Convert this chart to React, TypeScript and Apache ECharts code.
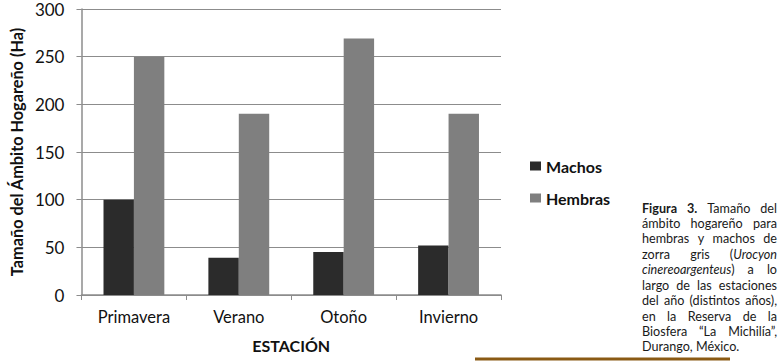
import React, { useEffect, useRef } from "react";
import * as echarts from "echarts";

const categories = ["Primavera", "Verano", "Otoño", "Invierno"];
const machos = [100, 39, 45, 52];
const hembras = [250, 190, 269, 190];
const seriesNames = ["Machos", "Hembras"];
const yMin = 0;
const yMax = 300;
const yStep = 50;
const xTitle = "ESTACIÓN";
const yTitle = "Tamaño del Ámbito Hogareño (Ha)";
const captionLines = [
  "{b|Figura} {b|3.} Tamaño del",
  "ámbito hogareño para",
  "hembras y machos de",
  "zorra gris ({i|Urocyon}",
  "{i|cinereoargenteus}) a lo",
  "largo de las estaciones",
  "del año (distintos años),",
  "en la Reserva de la",
  "Biosfera “La Michilía”,",
  "Durango, México.",
];

const FONT = "Lato, 'Open Sans', sans-serif";
const CAP_FONT = "Lato, sans-serif";
const CAP_SIZE = 12.6;

function parseWord(w: string) {
  const re = /\{(\w)\|([^}]*)\}|([^{]+)/g;
  const parts: { s: string; t: string }[] = [];
  let m: RegExpExecArray | null;
  while ((m = re.exec(w))) {
    if (m[1]) parts.push({ s: m[1], t: m[2] });
    else parts.push({ s: "n", t: m[3] });
  }
  return parts;
}

function buildCaption() {
  const canvas = document.createElement("canvas");
  const ctx = canvas.getContext("2d")!;
  const left = 642;
  const right = 777;
  const width = right - left;
  const top = 208;
  const lh = 15.44;
  const els: any[] = [];
  const rich = {
    n: { fontSize: CAP_SIZE, fontFamily: CAP_FONT, fill: "#1a1a1a" },
    b: { fontSize: CAP_SIZE, fontFamily: CAP_FONT, fontWeight: "bold", fill: "#1a1a1a" },
    i: { fontSize: CAP_SIZE, fontFamily: CAP_FONT, fontStyle: "italic", fill: "#1a1a1a" },
  };
  captionLines.forEach((line, li) => {
    const words = line.split(" ");
    const widths = words.map((w) =>
      parseWord(w).reduce((acc, p) => {
        const wt = p.s === "b" ? "bold " : "";
        const st = p.s === "i" ? "italic " : "";
        ctx.font = `${st}${wt}${CAP_SIZE}px ${CAP_FONT}`;
        return acc + ctx.measureText(p.t).width;
      }, 0)
    );
    const total = widths.reduce((a, b) => a + b, 0);
    const last = li === captionLines.length - 1;
    ctx.font = `${CAP_SIZE}px ${CAP_FONT}`;
    const gap = last || words.length < 2 ? ctx.measureText(" ").width : (width - total) / (words.length - 1);
    let x = left;
    words.forEach((w, wi) => {
      const parts = parseWord(w);
      const text = parts.map((p) => `{${p.s}|${p.t}}`).join("");
      const isLastWord = !last && wi === words.length - 1 && words.length > 1;
      els.push({
        type: "text",
        x: isLastWord ? right : x,
        y: top + li * lh,
        style: {
          text,
          rich,
          fontSize: CAP_SIZE,
          fontFamily: CAP_FONT,
          fill: "#1a1a1a",
          verticalAlign: "middle",
          align: isLastWord ? "right" : "left",
        },
      });
      x += widths[wi] + gap;
    });
  });
  return els;
}

export default function App() {
  const ref = useRef<HTMLDivElement>(null);
  useEffect(() => {
    document.body.style.margin = "0";
    document.body.style.overflow = "hidden";
    if (!ref.current) return;
    const chart = echarts.init(ref.current, null, { renderer: "svg" });
    const option: any = {
      animation: false,
      backgroundColor: "#ffffff",
      textStyle: { fontFamily: FONT },
      grid: { left: 72, top: 9, right: 279, bottom: 68, containLabel: false },
      legend: {
        orient: "vertical",
        left: 525,
        top: 153,
        itemWidth: 11,
        itemHeight: 9,
        itemGap: 16,
        icon: "rect",
        data: seriesNames,
        textStyle: { fontFamily: FONT, fontSize: 16, fontWeight: "bold", color: "#111" },
      },
      xAxis: {
        type: "category",
        data: categories,
        name: xTitle,
        nameLocation: "middle",
        nameGap: 42,
        nameTextStyle: { fontFamily: FONT, fontSize: 16, fontWeight: "bold", color: "#111" },
        axisLine: { lineStyle: { color: "#8c8c8c", width: 1.5 } },
        axisTick: { show: true, length: 5, alignWithLabel: false, lineStyle: { color: "#8c8c8c" } },
        axisLabel: { fontFamily: FONT, fontSize: 16.5, color: "#111", margin: 13 },
      },
      yAxis: {
        type: "value",
        min: yMin,
        max: yMax,
        interval: yStep,
        name: yTitle,
        nameLocation: "middle",
        nameGap: 52,
        nameTextStyle: { fontFamily: FONT, fontSize: 16.3, fontWeight: "bold", color: "#111" },
        axisLine: { show: true, lineStyle: { color: "#8c8c8c", width: 1.5 } },
        axisTick: { show: true, length: 5, lineStyle: { color: "#8c8c8c" } },
        axisLabel: { fontFamily: FONT, fontSize: 17, color: "#111", margin: 17 },
        splitLine: { lineStyle: { color: "#8c8c8c", width: 1.2 } },
      },
      series: [
        {
          name: seriesNames[0],
          type: "bar",
          data: machos,
          itemStyle: { color: "#2b2b2b" },
          barGap: "0%",
          barCategoryGap: "42%",
        },
        {
          name: seriesNames[1],
          type: "bar",
          data: hembras,
          itemStyle: { color: "#7f7f7f" },
          barGap: "0%",
          barCategoryGap: "42%",
        },
      ],
      graphic: [
        ...buildCaption(),
        {
          type: "line",
          shape: { x1: 475, y1: 359, x2: 730, y2: 359 },
          style: { stroke: "#8a5a14", lineWidth: 3 },
        },
      ],
    };
    chart.setOption(option);
    return () => chart.dispose();
  }, []);
  return <div ref={ref} style={{ width: 780, height: 363 }} />;
}
